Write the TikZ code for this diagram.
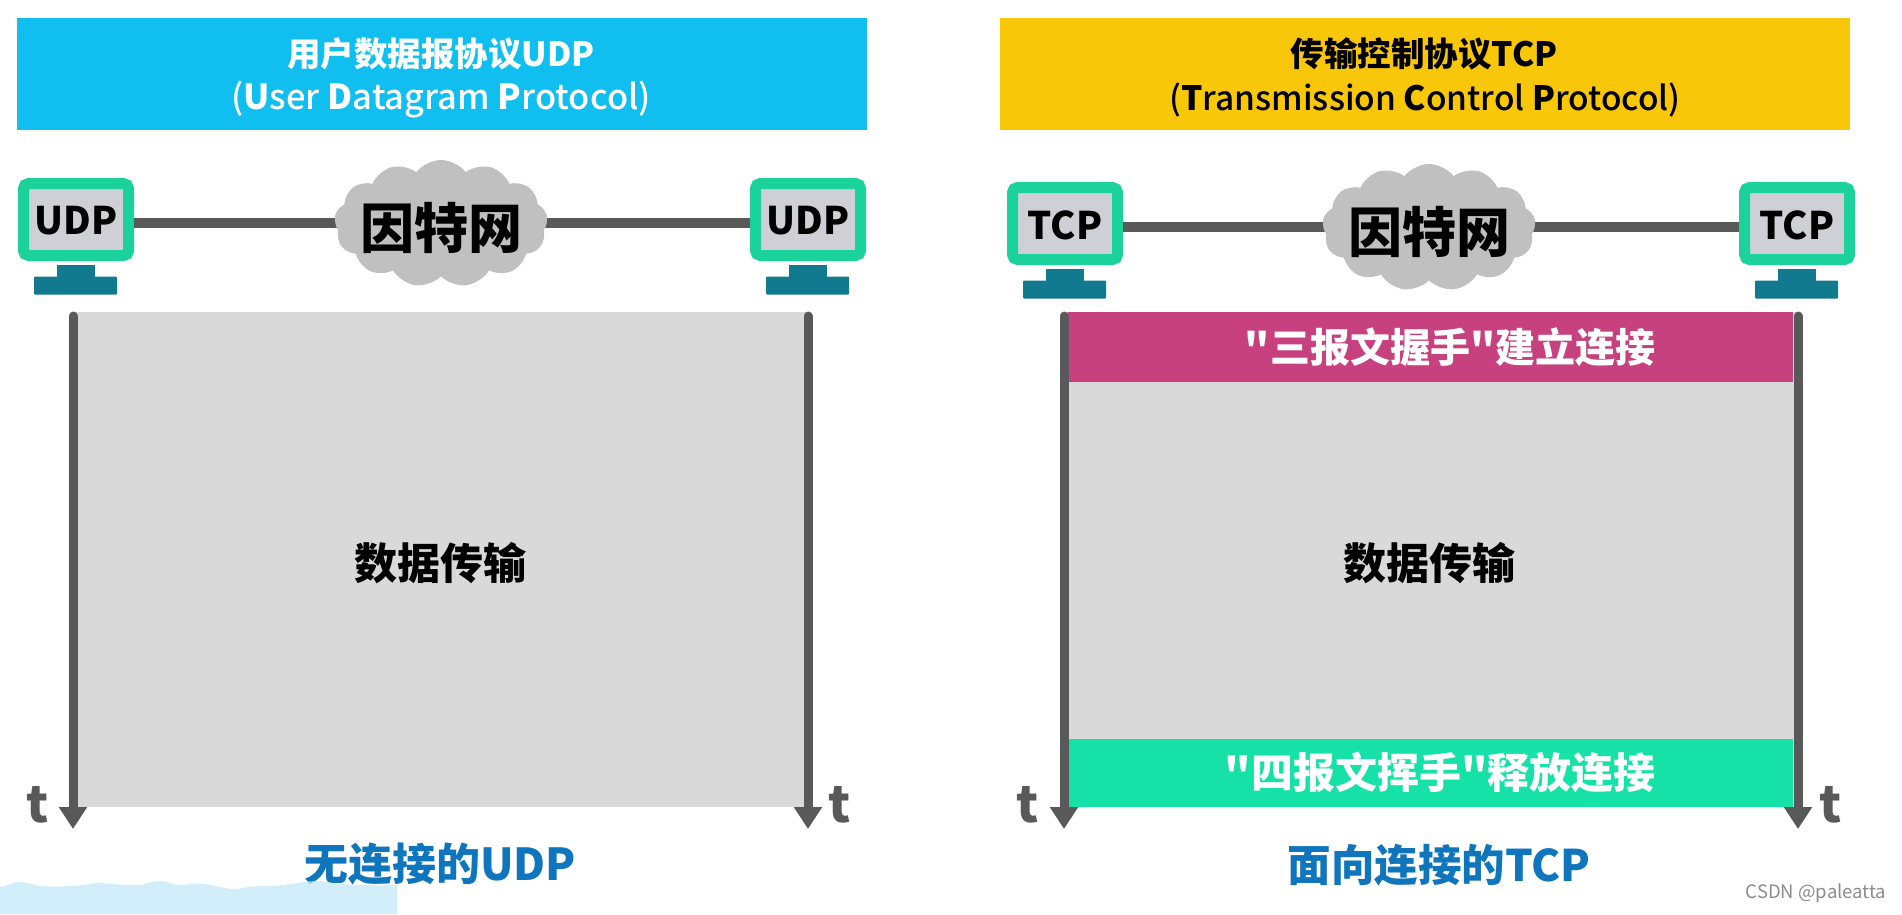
\documentclass[tikz,border=0pt]{standalone}
\usepackage{fontspec}
\setmainfont{Noto Sans CJK SC}
\newfontfamily\plainfont{Noto Sans CJK SC}
\newfontfamily\medfont{Noto Sans CJK SC Medium}
\newfontfamily\heavyfont{Noto Sans CJK SC Black}
\usetikzlibrary{arrows.meta,shapes.symbols}
\definecolor{hblue}{HTML}{10BFEF}
\definecolor{hyellow}{HTML}{F8C70A}
\definecolor{bandpink}{HTML}{C8417F}
\definecolor{bandgreen}{HTML}{16E2A8}
\definecolor{panelgray}{HTML}{D9D9D9}
\definecolor{linegray}{HTML}{595959}
\definecolor{cloudgray}{HTML}{C0C0C0}
\definecolor{standteal}{HTML}{127A8E}
\definecolor{framegreen}{HTML}{1BD39A}
\definecolor{screengray}{HTML}{CFCFD6}
\definecolor{capblue}{HTML}{0F75BD}
\definecolor{wavecol}{RGB}{195,232,248}
\tikzset{
  x=1pt,y=-1pt,
  header/.style={minimum width=850pt,minimum height=112pt,inner sep=0pt},
  headtitle/.style={inner sep=0pt,font=\fontsize{33.5}{34}\selectfont\bfseries},
  headsub/.style={inner sep=0pt,font=\fontsize{34.5}{35}\selectfont\medfont},
  monitor/.style={draw=framegreen,line width=11pt,fill=screengray,rounded corners=5pt,minimum width=105pt,minimum height=72pt,inner sep=0pt},
  montext/.style={inner sep=0pt,font=\fontsize{38}{38}\selectfont\bfseries,text=black},
  neck/.style={fill=standteal,minimum width=38pt,minimum height=14pt,inner sep=0pt},
  base/.style={fill=standteal,minimum width=83pt,minimum height=18pt,inner sep=0pt,rounded corners=1pt},
  link/.style={draw=linegray,line width=10pt},
  netcloud/.style={cloud,cloud puffs=13,cloud puff arc=105,aspect=1.7,fill=cloudgray,minimum width=213pt,minimum height=126pt,inner sep=0pt},
  netlabel/.style={inner sep=0pt,font=\fontsize{54}{54}\selectfont\heavyfont,text=black},
  panel/.style={fill=panelgray,minimum width=734pt,minimum height=495pt,inner sep=0pt},
  band/.style={minimum width=725pt,inner sep=0pt},
  bandtext/.style={inner sep=0pt,text=white,font=\fontsize{41}{41}\selectfont\plainfont\bfseries},
  datatext/.style={inner sep=0pt,font=\fontsize{43}{43}\selectfont\bfseries,text=black},
  timeline/.style={draw=linegray,line width=9pt,line cap=round,-{Triangle[length=22pt,width=27pt]}},
  tlabel/.style={inner sep=0pt,text=linegray,font=\fontsize{50}{50}\selectfont\bfseries},
  caption/.style={inner sep=0pt,text=capblue,font=\fontsize{44}{44}\selectfont\bfseries},
}
\begin{document}
\begin{tikzpicture}
\useasboundingbox (0,0) rectangle (1902,914);
% headers
\node[header,fill=hblue] (hu) at (442,74) {};
\node[headtitle,text=white] (hu1) at (441,53.5) {用户数据报协议UDP};
\node[headsub,text=white] (hu2) at (441,100) {({\bfseries U}ser {\bfseries D}atagram {\bfseries P}rotocol)};
\node[header,fill=hyellow] (ht) at (1425,74) {};
\node[headtitle,text=black] (ht1) at (1424,53.5) {传输控制协议TCP};
\node[headsub,text=black,font=\fontsize{33.5}{34}\selectfont\medfont] (ht2) at (1425,100) {({\bfseries T}ransmission {\bfseries C}ontrol {\bfseries P}rotocol)};
% UDP network
\node[monitor] (ua) at (76,219.5) {};
\node[montext] (uat) at (76,221) {UDP};
\node[neck] (una) at (76,272) {};
\node[base] (uba) at (75.5,285.5) {};
\node[monitor] (ub) at (808,219.5) {};
\node[montext] (ubt) at (808,221) {UDP};
\node[neck] (unb) at (808,272) {};
\node[base] (ubb) at (807.5,285.5) {};
\node[netcloud] (uc) at (441,223) {};
\draw[link] (ua.east |- uc.center) -- (uc.center);
\draw[link] (ub.west |- uc.center) -- (uc.center);
\node[netcloud] (ucc) at (441,224) {};
\node[netlabel] (ucl) at (441,228) {因特网};
% TCP network
\node[monitor] (ta) at (1065,223.5) {};
\node[montext] (tat) at (1065,225) {TCP};
\node[neck] (tna) at (1065,276) {};
\node[base] (tba) at (1064.5,289.5) {};
\node[monitor] (tb) at (1797,223.5) {};
\node[montext] (tbt) at (1797,225) {TCP};
\node[neck] (tnb) at (1797,276) {};
\node[base] (tbb) at (1796.5,289.5) {};
\node[netcloud] (tc) at (1429,227) {};
\draw[link] (ta.east |- tc.center) -- (tc.center);
\draw[link] (tb.west |- tc.center) -- (tc.center);
\node[netcloud] (tcc) at (1429,228) {};
\node[netlabel] (tcl) at (1429,232) {因特网};
% panels
\node[panel] (pu) at (440,559.5) {};
\node[panel] (pt) at (1430.5,559.5) {};
\node[band,fill=bandpink,minimum height=70pt] (bp) at (1430.5,347) {};
\node[band,fill=bandgreen,minimum height=68pt] (bg) at (1430.5,773) {};
\node[bandtext,font=\fontsize{40}{40}\selectfont\plainfont\bfseries] (bpt) at (1450,347) {"三报文握手"建立连接};
\node[bandtext,font=\fontsize{42}{42}\selectfont\plainfont\bfseries] (bgt) at (1440,773) {"四报文挥手"释放连接};
\node[datatext] (du) at (440,563) {数据传输};
\node[datatext] (dt) at (1429,563) {数据传输};
% timelines
\coordinate (a1) at (73,316); \coordinate (a2) at (73,829);
\coordinate (b1) at (808,316); \coordinate (b2) at (808,829);
\coordinate (c1) at (1064,316); \coordinate (c2) at (1064,829);
\coordinate (d1) at (1798,316); \coordinate (d2) at (1798,829);
\draw[timeline] (a1) -- (a2);
\draw[timeline] (b1) -- (b2);
\draw[timeline] (c1) -- (c2);
\draw[timeline] (d1) -- (d2);
\node[tlabel] (t1) at (37.5,805) {t};
\node[tlabel] (t2) at (840,805) {t};
\node[tlabel] (t3) at (1028,805) {t};
\node[tlabel] (t4) at (1831,805) {t};
% captions
\node[caption] (cu) at (440,864) {无连接的UDP};
\node[caption,font=\fontsize{43.5}{44}\selectfont\bfseries] (ct) at (1439,865) {面向连接的TCP};
% wave
\fill[wavecol,opacity=.75] (0,887) .. controls (8,886) and (12,882) .. (20,882)
  .. controls (28,882) and (32,885) .. (42,886)
  .. controls (60,887) and (80,886) .. (95,883)
  .. controls (110,883) and (125,886) .. (142,885)
  .. controls (150,882) and (155,881) .. (160,881)
  .. controls (168,881) and (172,885) .. (182,885)
  .. controls (190,884) and (197,883) .. (205,884)
  .. controls (220,886) and (228,890) .. (238,889)
  .. controls (250,886) and (255,886) .. (275,886)
  .. controls (290,885) and (300,881) .. (320,881)
  .. controls (335,884) and (360,886) .. (397,885)
  -- (397,914) -- (0,914) -- cycle;
% watermark
\node[inner sep=0pt,text=black!45,font=\fontsize{18.5}{19}\selectfont] (wm) at (1816,893) {CSDN @paleatta};
\end{tikzpicture}
\end{document}
